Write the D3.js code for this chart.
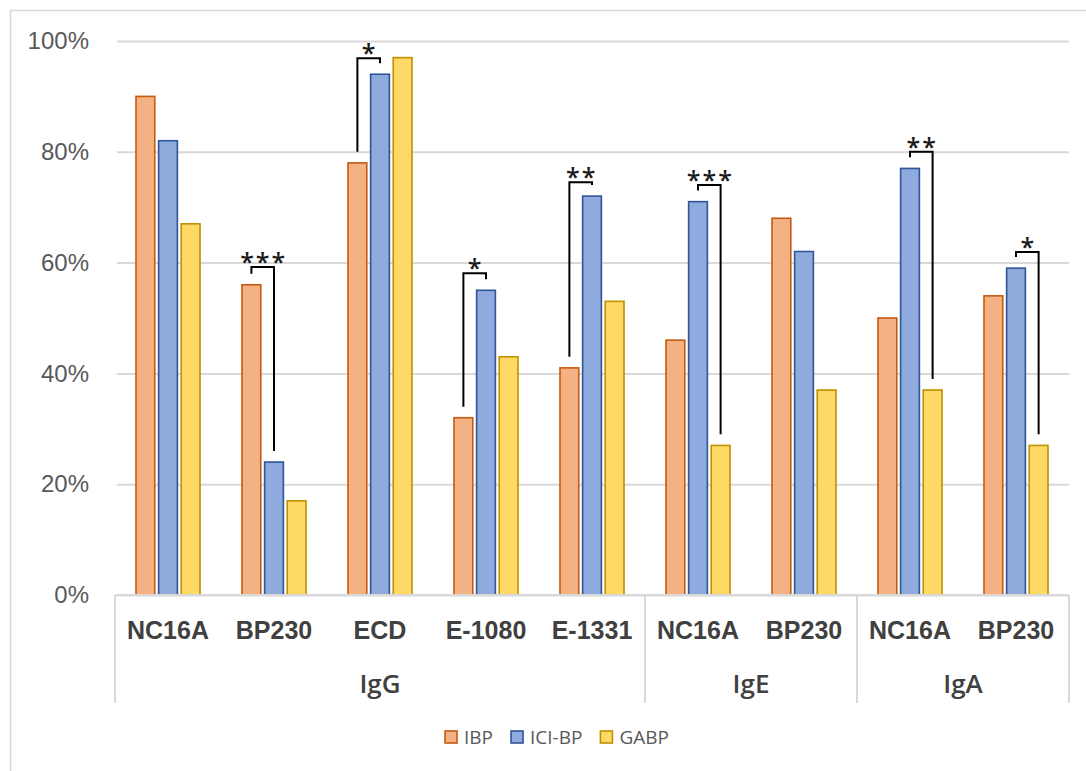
<!DOCTYPE html>
<html>
<head>
<meta charset="utf-8">
<script src="https://cdn.jsdelivr.net/npm/d3@7"></script>
<style>
  body { margin: 0; background: #fff; }
  svg { display: block; font-family: "Open Sans", "Noto Sans", sans-serif; }
</style>
</head>
<body>
<div id="chart"></div>
<script>
// data
const categories = ['NC16A', 'BP230', 'ECD', 'E-1080', 'E-1331', 'NC16A', 'BP230', 'NC16A', 'BP230'];
const groups = [
  { name: 'IgG', start: 0, count: 5 },
  { name: 'IgE', start: 5, count: 2 },
  { name: 'IgA', start: 7, count: 2 }
];
const seriesNames = ['IBP', 'ICI-BP', 'GABP'];
const ibp   = [90, 56, 78, 32, 41, 46, 68, 50, 54];
const iciBp = [82, 24, 94, 55, 72, 71, 62, 77, 59];
const gabp  = [67, 17, 97, 43, 53, 27, 37, 37, 27];
const yTicks = [0, 20, 40, 60, 80, 100];

// significance brackets: category, from series, to series, bracket top (%), label
const brackets = [
  { cat: 1, a: 0, b: 1, top: 59.2, label: '***' },
  { cat: 2, a: 0, b: 1, top: 96.9, label: '*' },
  { cat: 3, a: 0, b: 1, top: 58.1, label: '*' },
  { cat: 4, a: 0, b: 1, top: 74.5, label: '**' },
  { cat: 5, a: 1, b: 2, top: 74.0, label: '***' },
  { cat: 7, a: 1, b: 2, top: 80.0, label: '**' },
  { cat: 8, a: 1, b: 2, top: 61.9, label: '*' }
];

const series = [ibp, iciBp, gabp];
const fills = ['#f4b183', '#8faadc', '#ffd966'];
const strokes = ['#c55a11', '#2f5597', '#bf9000'];

const width = 1086, height = 771;
const margin = { top: 41, right: 17, bottom: 176, left: 115 };
const plotBottom = height - margin.bottom;

const svg = d3.select('#chart').append('svg')
  .attr('width', width)
  .attr('height', height);

// outer chart border (runs off the right and bottom of the picture)
svg.append('rect')
  .attr('x', 10.5).attr('y', 10.5)
  .attr('width', 1120).attr('height', 800)
  .attr('fill', 'none')
  .attr('stroke', '#d9d9d9')
  .attr('stroke-width', 1.5);

const x = d3.scaleBand()
  .domain(d3.range(categories.length))
  .range([margin.left, width - margin.right]);

const xSub = d3.scaleBand()
  .domain(d3.range(series.length))
  .range([21, x.bandwidth() - 21])
  .paddingInner(0.17);

const y = d3.scaleLinear()
  .domain([0, 100])
  .range([plotBottom, margin.top]);

// y axis with gridlines
const yAxis = svg.append('g')
  .attr('transform', `translate(${margin.left},0)`)
  .call(d3.axisLeft(y)
    .tickValues(yTicks)
    .tickFormat(d => d + '%')
    .tickSizeInner(-(width - margin.right - margin.left - 2))
    .tickSizeOuter(0)
    .tickPadding(26));
yAxis.select('.domain').remove();
yAxis.selectAll('.tick line')
  .attr('transform', 'translate(2,0)')
  .attr('stroke', '#d9d9d9')
  .attr('stroke-width', 2);
yAxis.selectAll('.tick text')
  .attr('fill', '#595959')
  .style('font-size', '24px');

// bars
series.forEach((vals, s) => {
  svg.append('g')
    .selectAll('rect')
    .data(vals)
    .join('rect')
    .attr('x', (d, i) => x(i) + xSub(s))
    .attr('y', d => y(d))
    .attr('width', xSub.bandwidth())
    .attr('height', d => y(0) - y(d))
    .attr('fill', fills[s])
    .attr('stroke', strokes[s])
    .attr('stroke-width', 1.6);
});

// category axis
const xAxis = svg.append('g')
  .attr('transform', `translate(0,${plotBottom})`)
  .call(d3.axisBottom(x)
    .tickFormat(i => categories[i])
    .tickSize(0)
    .tickPadding(26));
xAxis.select('.domain').remove();
xAxis.selectAll('.tick text')
  .attr('fill', '#404040')
  .style('font-size', '25px')
  .style('font-weight', 600);

svg.append('line')
  .attr('x1', x.range()[0]).attr('x2', x.range()[1])
  .attr('y1', plotBottom).attr('y2', plotBottom)
  .attr('stroke', '#d9d9d9').attr('stroke-width', 2);

const sepX = [x(0)].concat(groups.map(g => x(g.start + g.count - 1) + x.bandwidth()));
svg.append('g')
  .selectAll('line')
  .data(sepX)
  .join('line')
  .attr('x1', d => d).attr('x2', d => d)
  .attr('y1', plotBottom).attr('y2', plotBottom + 108)
  .attr('stroke', '#d9d9d9').attr('stroke-width', 2);

svg.append('g')
  .selectAll('text')
  .data(groups)
  .join('text')
  .attr('x', g => (x(g.start) + x(g.start + g.count - 1) + x.bandwidth()) / 2)
  .attr('y', plotBottom + 98)
  .attr('text-anchor', 'middle')
  .attr('fill', '#404040')
  .style('font-size', '26px')
  .style('font-weight', 600)
  .text(g => g.name);

// significance brackets
const legGap = 2;
const barCenter = (cat, s) => x(cat) + xSub(s) + xSub.bandwidth() / 2;
const bg = svg.append('g');
brackets.forEach(b => {
  const xa = barCenter(b.cat, b.a), xb = barCenter(b.cat, b.b);
  const ya = y(series[b.a][b.cat] + legGap), yb = y(series[b.b][b.cat] + legGap);
  const yt = y(b.top);
  bg.append('path')
    .attr('d', `M${xa},${ya}V${yt}H${xb}V${yb}`)
    .attr('fill', 'none')
    .attr('stroke', '#000')
    .attr('stroke-width', 2);
  bg.append('text')
    .attr('x', (xa + xb) / 2 + 1)
    .attr('y', yt + 4)
    .attr('text-anchor', 'middle')
    .attr('fill', '#1a1a1a')
    .style('font-size', '25px')
    .style('font-weight', 600)
    .style('letter-spacing', '2px')
    .text(b.label);
});

// legend
const legend = svg.append('g');
let lx = 0;
seriesNames.forEach((name, s) => {
  const item = legend.append('g').attr('transform', `translate(${lx},0)`);
  item.append('rect')
    .attr('x', 0).attr('y', -6)
    .attr('width', 12).attr('height', 12)
    .attr('fill', fills[s])
    .attr('stroke', strokes[s])
    .attr('stroke-width', 1.6);
  const t = item.append('text')
    .attr('x', 19).attr('y', 0)
    .attr('dominant-baseline', 'central')
    .attr('fill', '#595959')
    .style('font-size', '19px')
    .text(name);
  lx += 19 + t.node().getComputedTextLength() + 18;
});
const legendW = lx - 18;
legend.attr('transform', `translate(${557 - legendW / 2},737)`);
</script>
</body>
</html>
